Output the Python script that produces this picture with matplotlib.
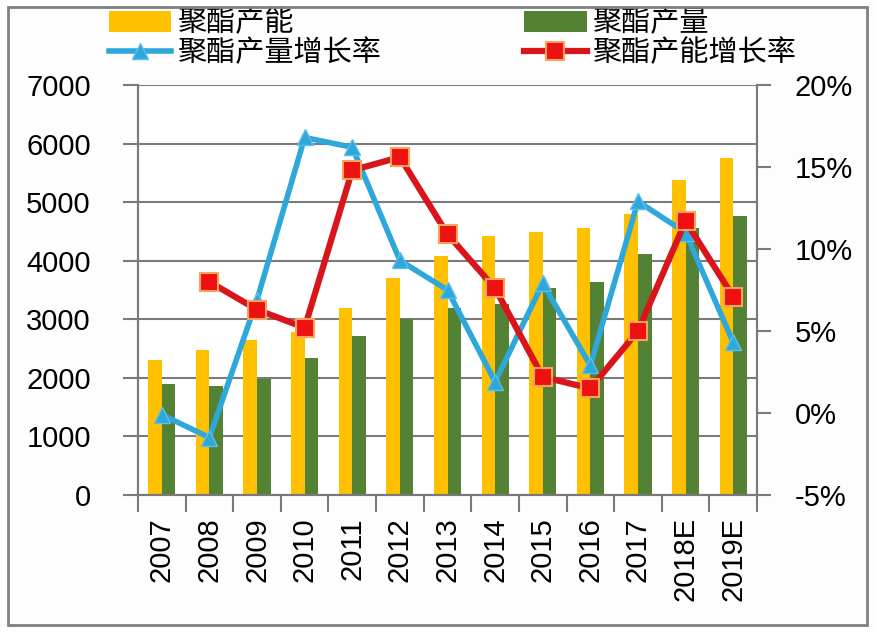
import numpy as np
import matplotlib
matplotlib.use("Agg")
import matplotlib.pyplot as plt
from matplotlib.patches import Rectangle
from matplotlib.font_manager import FontProperties

years = ['2007', '2008', '2009', '2010', '2011', '2012', '2013',
         '2014', '2015', '2016', '2017', '2018E', '2019E']
capacity = [2300, 2470, 2640, 2780, 3190, 3700, 4080,
            4420, 4490, 4560, 4800, 5380, 5750]
output = [1890, 1860, 1980, 2340, 2710, 3000, 3190,
          3260, 3530, 3640, 4110, 4560, 4760]
output_growth = [-0.1, -1.5, 6.9, 16.8, 16.2, 9.3, 7.5,
                 1.9, 7.9, 2.9, 12.9, 11.0, 4.3]
capacity_growth = [np.nan, 8.0, 6.3, 5.2, 14.8, 15.6, 10.9,
                   7.6, 2.2, 1.5, 5.0, 11.7, 7.1]

YELLOW = '#FFC000'
GREEN = '#548235'
BLUE = '#2EA7DB'
RED = '#D9141A'
GRID = '#7a7a7a'

tick_font = {'family': 'Liberation Sans', 'size': 21}


def main():
    fig = plt.figure(figsize=(8.76, 6.32), dpi=100, facecolor='#FDFDFD')
    ax = fig.add_axes([138 / 876, 1 - 495 / 632, (757 - 138) / 876, (495 - 85) / 632])
    ax.set_facecolor('white')

    x = np.arange(len(years))
    w = 0.285
    b1 = ax.bar(x - w / 2, capacity, w, color=YELLOW, zorder=2)
    b2 = ax.bar(x + w / 2, output, w, color=GREEN, zorder=2)

    ax.set_ylim(0, 7000)
    ax.set_yticks(np.arange(0, 7001, 1000))
    ax.set_xlim(-0.5, len(years) - 0.5)
    ax.set_axisbelow(True)
    ax.yaxis.grid(True, color=GRID, lw=1.5)

    # category boundaries carry the tick marks, labels sit in the middle
    ax.set_xticks(np.arange(-0.5, len(years), 1.0))
    ax.set_xticklabels([])
    ax.set_xticks(x, minor=True)
    ax.set_xticklabels(years, minor=True, rotation=90, fontdict=tick_font)
    ax.tick_params(axis='x', which='major', direction='out', length=12, width=1.5, color=GRID)
    ax.tick_params(axis='x', which='minor', length=0, pad=16)
    ax.tick_params(axis='y', direction='out', length=11, width=1.5, color=GRID, pad=23)
    for lbl in ax.get_yticklabels():
        lbl.set_fontproperties(FontProperties(**tick_font))

    for s in ax.spines.values():
        s.set_color(GRID)
        s.set_linewidth(1.5)
    ax.spines['top'].set_visible(False)

    ax2 = ax.twinx()
    l1, = ax2.plot(x, output_growth, color=BLUE, lw=4, marker='^', ms=12,
                   mfc=BLUE, mec='#5BC0E8', mew=1, zorder=3)
    l2, = ax2.plot(x, capacity_growth, color=RED, lw=4.5, marker='s', ms=13,
                   mfc='#EE1111', mec='#F7A35C', mew=1.5, zorder=4)
    ax2.set_ylim(-5, 20)
    ax2.set_yticks(np.arange(-5, 21, 5))
    ax2.set_yticklabels([f'{v}%' for v in range(-5, 21, 5)], fontdict=tick_font)
    ax2.tick_params(axis='y', direction='out', length=10, width=1.5, color=GRID, pad=17)
    for s in ax2.spines.values():
        s.set_color(GRID)
        s.set_linewidth(1.5)
    ax2.spines['top'].set_visible(False)

    fig.legend([b1, l1, b2, l2],
               ['聚酯产能', '聚酯产量增长率', '聚酯产量', '聚酯产能增长率'],
               ncol=2, loc='upper left', bbox_to_anchor=(94 / 876, 1 + 6 / 632),
               frameon=False, borderpad=0, handlelength=2.15, handletextpad=0.2,
               columnspacing=4.9, labelspacing=0.0,
               prop={'family': ['Noto Sans CJK SC', 'DejaVu Sans'], 'size': 21})

    fig.patches.append(Rectangle((8 / 876, 1 - 625 / 632), (867 - 8) / 876, (625 - 7) / 632,
                                 transform=fig.transFigure, fill=False,
                                 ec='#808080', lw=2, zorder=10))

    fig.savefig('out.png', dpi=100, facecolor=fig.get_facecolor())


if __name__ == '__main__':
    main()
